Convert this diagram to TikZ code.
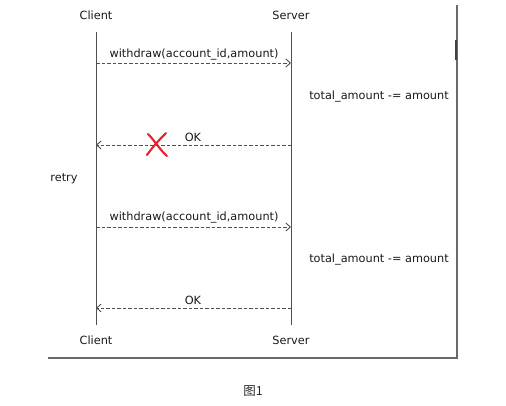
\documentclass[tikz,border=0pt]{standalone}
\usepackage{fontspec}
\setmainfont{DejaVu Sans}
\newfontfamily\cjk{Noto Sans CJK SC}
\usetikzlibrary{arrows.meta}
\definecolor{lineGray}{HTML}{505050}
\definecolor{frameGray}{HTML}{6A6A6A}
\definecolor{crossRed}{HTML}{E8202A}
\tikzset{
  x=1pt, y=-1pt,
  lbl/.style={font=\fontsize{11.3}{13}\selectfont, text=black!90, inner sep=1pt},
  lifeline/.style={draw=lineGray, line width=0.9pt},
  msg/.style={draw=lineGray, line width=0.9pt, dash pattern=on 3.5pt off 2pt, -{Straight Barb[length=4.5pt,width=8pt,line width=0.9pt]}},
  frameline/.style={draw=frameGray, line width=2.2pt},
  crossline/.style={draw=crossRed, line width=2.1pt, line cap=round},
}
\begin{document}
\begin{tikzpicture}
\useasboundingbox (0,0) rectangle (506,406);
% frame (shadowed right and bottom edges)
\coordinate (fTR) at (457,5);
\coordinate (fBR) at (457,358);
\coordinate (fBL) at (48,358);
\draw[frameline] (fTR) -- (fBR) -- (fBL);
\coordinate (fM1) at (456,40);
\coordinate (fM2) at (456,60);
\draw[draw=black!75, line width=1.5pt] (fM1) -- (fM2);
% participants
\node[lbl] (cTop) at (96,15) {Client};
\node[lbl] (sTop) at (291,15) {Server};
\node[lbl] (cBot) at (96,340) {Client};
\node[lbl] (sBot) at (291,340) {Server};
\coordinate (cL1) at (96,32);
\coordinate (cL2) at (96,325);
\coordinate (sL1) at (291,32);
\coordinate (sL2) at (291,325);
\draw[lifeline] (cL1) -- (cL2);
\draw[lifeline] (sL1) -- (sL2);
% message points
\coordinate (c1) at (96,63);  \coordinate (s1) at (291,63);
\coordinate (c2) at (96,145); \coordinate (s2) at (291,145);
\coordinate (c3) at (96,227); \coordinate (s3) at (291,227);
\coordinate (c4) at (96,308); \coordinate (s4) at (291,308);
\draw[msg] (c1) -- (s1);
\draw[msg] (s2) -- (c2);
\draw[msg] (c3) -- (s3);
\draw[msg] (s4) -- (c4);
% labels
\node[lbl] (w1) at (194,55) {withdraw(account\_id,amount)};
\node[lbl] (t1) at (379,97) {total\_amount -= amount};
\node[lbl] (ok1) at (193,137) {OK};
\node[lbl] (retry) at (64,179) {retry};
\node[lbl] (w2) at (194,218) {withdraw(account\_id,amount)};
\node[lbl] (t2) at (379,260) {total\_amount -= amount};
\node[lbl] (ok2) at (193,300) {OK};
% red cross
\coordinate (x1) at (148,134); \coordinate (x2) at (167,156);
\coordinate (x3) at (166,133); \coordinate (x4) at (147,155);
\draw[crossline] (x1) .. controls (155,141) and (160,150) .. (x2);
\draw[crossline] (x3) .. controls (158,141) and (152,148) .. (x4);
% caption
\node[font=\cjk\fontsize{12.5}{14}\selectfont, text=black!85] (cap) at (253,391) {图1};
\end{tikzpicture}
\end{document}
